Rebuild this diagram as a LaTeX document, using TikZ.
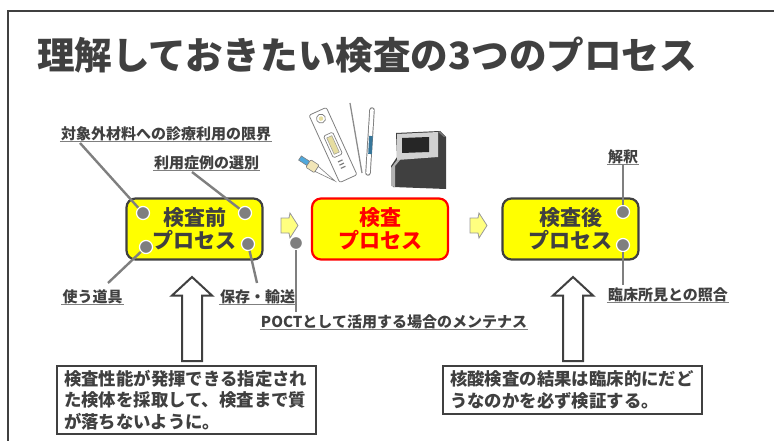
\documentclass[tikz,border=0pt]{standalone}
\usepackage{fontspec}
\newfontfamily\jp{Noto Sans CJK JP}
\definecolor{dk}{HTML}{404040}
\definecolor{gr}{HTML}{7F7F7F}
\definecolor{yel}{HTML}{FFFF00}
\definecolor{lyel}{HTML}{FFFF80}
\definecolor{dropblue}{HTML}{4FA8DC}
\definecolor{beige}{HTML}{F2E6B8}
\definecolor{win}{HTML}{E6DDA0}
\begin{document}
\begin{tikzpicture}[x=1pt,y=-1pt,
  every node/.style={font=\jp\bfseries, text=dk},
  proc/.style={draw=dk, line width=2.2pt, fill=yel, rounded corners=9pt,
    minimum width=136pt, minimum height=61pt, align=center, inner sep=0pt,
    font=\jp\bfseries\fontsize{21}{23}\selectfont},
  dot/.style={circle, fill=gr, draw=white, line width=1.2pt,
    minimum size=13pt, inner sep=0pt},
  lbl/.style={font=\jp\bfseries\fontsize{15}{17}\selectfont, inner xsep=1pt, inner ysep=0pt},
  ul/.style={draw=gr, line width=0.9pt},
  lead/.style={draw=gr, line width=2.4pt},
  note/.style={draw=dk, line width=2pt, fill=white, align=left,
    text width=245pt, inner xsep=7pt, anchor=north west,
    font=\jp\bfseries\fontsize{17.4}{21.5}\selectfont},
  smallarrow/.style={draw=gr!80, line width=0.8pt, fill=lyel},
  bigarrow/.style={draw=dk, line width=2pt, fill=white},
]
\useasboundingbox (0,0) rectangle (774,441);

% page frame
\draw[dk, line width=1.5pt] (8,441) -- (8,11) -- (774,11);

% title
\node[anchor=west, inner sep=0pt, font=\jp\bfseries\fontsize{37.6}{40}\selectfont]
  (title) at (37,55) {理解しておきたい検査の3つのプロセス};

% the three process boxes
\node[proc] (pre)  at (194.5,229) {検査前\\プロセス};
\node[proc, draw=red, text=red] (mid) at (380,229) {検査\\プロセス};
\node[proc] (post) at (570.5,229) {検査後\\プロセス};

% small arrows between the boxes
\foreach \x in {281,470}{
  \draw[smallarrow] (\x,218) -- (\x+8,218) -- (\x+9,213) -- (\x+17,225.5)
    -- (\x+9,238) -- (\x+8,233) -- (\x,233) -- cycle;
}

% labels
\node[lbl] (l1) at (166,134) {対象外材料への診療利用の限界};
\node[lbl] (l2) at (206.5,163) {利用症例の選別};
\node[lbl] (l3) at (92.5,297) {使う道具};
\node[lbl] (l4) at (257.5,297) {保存・輸送};
\node[lbl] (l5) at (394,322) {POCTとして活用する場合のメンテナス};
\node[lbl] (l6) at (623,157) {解釈};
\node[lbl] (l7) at (668,295) {臨床所見との照合};

% dots on the boxes
\node[dot] (c1) at (143,213) {};
\node[dot] (c2) at (245,213) {};
\node[dot] (c3) at (146,247) {};
\node[dot] (c4) at (248,244) {};
\node[dot] (c5) at (296,243) {};
\node[dot] (c6) at (623,212) {};
\node[dot] (c7) at (623,245) {};

% free ends of the leader lines
\coordinate (e1) at (80,143);
\coordinate (e2) at (192,172);
\coordinate (e3) at (108,283);
\coordinate (e4) at (257,283);
\coordinate (e5) at (296,312);
\coordinate (e6) at (623,165);
\coordinate (e7) at (623,285);

\foreach \i in {1,...,7}{ \draw[lead] (c\i) -- (e\i); }

% underlines
\foreach \n in {l1,l2,l3,l5,l6,l7}{ \draw[ul] (\n.south west) -- (\n.south east); }
\draw[ul] (l4.south west) -- (l4.south west -| e5);

% hollow up arrows
\foreach \x in {192,573}{
  \draw[bigarrow] (\x,277) -- (\x+20,295.5) -- (\x+10,295.5) -- (\x+10,361)
    -- (\x-10,361) -- (\x-10,295.5) -- (\x-20,295.5) -- cycle;
}

% explanatory notes
\node[note, minimum height=68pt, inner ysep=4pt] (n1) at (56,365)
  {検査性能が発揮できる指定され\\た検体を採取して、検査まで質\\が落ちないように。};
\node[note, minimum height=48pt, inner ysep=4pt] (n2) at (442,365)
  {核酸検査の結果は臨床的にだど\\うなのかを必ず検証する。};

% test cartridge
\begin{scope}[shift={(333,145)}, rotate=24.5]
  \draw[gr, fill=white, line width=0.8pt, rounded corners=2pt] (-9.5,-37) rectangle (9.5,37);
  \draw[gr, fill=white, line width=0.7pt] (0,-29) circle (4.5);
  \fill[win] (0,-29) circle (2.3);
  \draw[gr, fill=white, line width=0.7pt, rounded corners=1.5pt] (-5,-12) rectangle (5,12);
  \draw[gr!80, fill=win, line width=0.5pt] (-2.8,-9) rectangle (2.8,9);
  \foreach \y in {17.5,21,24.5}{ \draw[gr, line width=1.2pt] (-2.5,\y) -- (2.5,\y); }
\end{scope}

% swab stick
\draw[gr!90, line width=1.3pt] (350,103) -- (362,173);

% sample tube
\draw[gr, line width=5.5pt, line cap=round] (372,110) -- (368,173);
\draw[white, line width=3.6pt, line cap=round] (372,110) -- (368,173);
\draw[dropblue!70!black, line width=3.6pt] (370.9,136) -- (370.0,154);

% dropper
\begin{scope}[shift={(300,158)}, rotate=-33.3]
  \draw[gr, fill=dropblue, line width=0.6pt] (0,-2.5) rectangle (10,2.5);
  \draw[gr, fill=beige, line width=0.6pt, rounded corners=1pt] (10,-4.5) rectangle (20,4.5);
  \draw[gr, fill=white, line width=0.6pt] (20,-3) -- (42,0) -- (20,3) -- cycle;
\end{scope}

% analyzer
\fill[black!75] (396,133) -- (440,131) -- (446,137) -- (446,189) -- (393,187)
  -- (391,166) -- (397,157) -- cycle;
\fill[black!18] (397,134) -- (438,132) -- (438,157) -- (397,160) -- cycle;
\fill[black!30] (397,160) -- (391,168) -- (391,186) -- (395,187) -- (395,166) -- (400,160) -- cycle;
\fill[black!85] (402,138) -- (429,137) -- (429,152) -- (402,153) -- cycle;
\fill[black!55] (438,132) -- (440,131) -- (446,137) -- (444,137) -- cycle;
\end{tikzpicture}
\end{document}
